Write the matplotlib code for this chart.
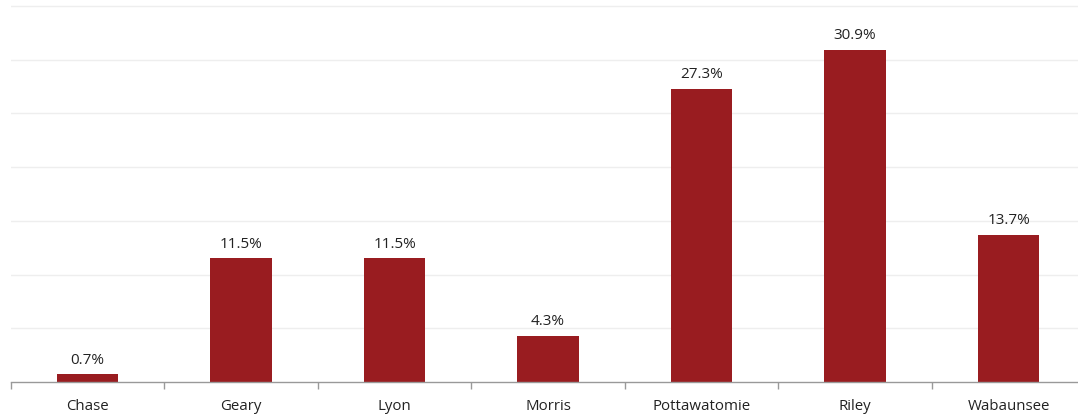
import matplotlib
matplotlib.use("Agg")
import matplotlib.pyplot as plt
import numpy as np

counties = ["Chase", "Geary", "Lyon", "Morris", "Pottawatomie", "Riley", "Wabaunsee"]
shares = [0.7, 11.5, 11.5, 4.3, 27.3, 30.9, 13.7]
grid_levels = [5, 10, 15, 20, 25, 30, 35]

plt.rcParams["font.family"] = ["Open Sans", "DejaVu Sans"]

W, H = 1078, 419
fig = plt.figure(figsize=(W / 100, H / 100), dpi=100)

# axes spans the plotting band; it runs slightly past the right edge
x0, x1 = 10.7, 1085.5
y_axis, y_top = 382, 0
ax = fig.add_axes([x0 / W, (H - y_axis) / H, (x1 - x0) / W, (y_axis - y_top) / H])

ymax = 35 * (y_axis - y_top) / (y_axis - 6)
ax.set_ylim(0, ymax)
ax.set_xlim(-0.5, len(counties) - 0.5)

for g in grid_levels:
    ax.axhline(g, color="#eeeeee", lw=1, zorder=0)

x = np.arange(len(counties))
bars = ax.bar(x, shares, width=0.4, color="#991c20", zorder=2)

for xi, v in zip(x, shares):
    ax.annotate(f"{v:.1f}%", (xi, v), xytext=(0, 5), textcoords="offset points",
                ha="center", va="bottom", fontsize=11, color="#222222")

for s in ["top", "right", "left"]:
    ax.spines[s].set_visible(False)
ax.spines["bottom"].set_color("#999999")
ax.spines["bottom"].set_linewidth(1)

ax.set_yticks([])
ax.set_xticks(x)
ax.set_xticklabels(counties, fontsize=10.8, color="#222222")
ax.tick_params(axis="x", which="major", length=0, pad=12)
ax.set_xticks(np.arange(-0.5, len(counties), 1.0), minor=True)
ax.tick_params(axis="x", which="minor", length=5, color="#999999", width=1)

fig.savefig("out.png", dpi=100)
